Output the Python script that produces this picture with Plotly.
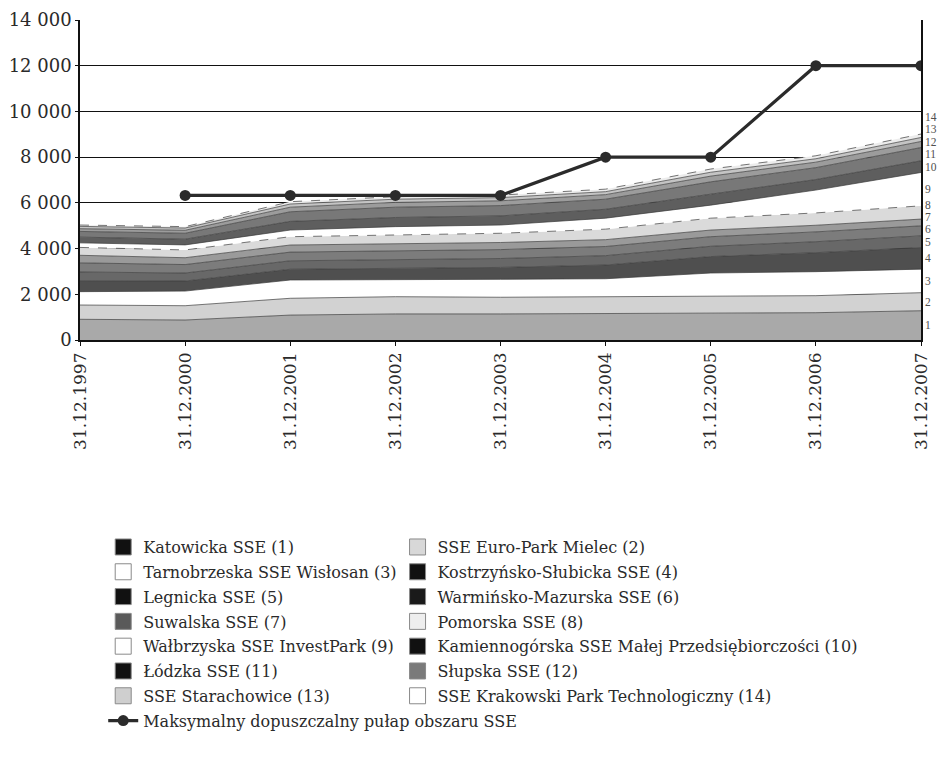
import plotly.graph_objects as go

# ---------------- data ----------------
dates = ["31.12.1997", "31.12.2000", "31.12.2001", "31.12.2002", "31.12.2003",
         "31.12.2004", "31.12.2005", "31.12.2006", "31.12.2007"]

zone_names = [
    "Katowicka SSE (1)",
    "SSE Euro-Park Mielec (2)",
    "Tarnobrzeska SSE Wisłosan (3)",
    "Kostrzyńsko-Słubicka SSE (4)",
    "Legnicka SSE (5)",
    "Warmińsko-Mazurska SSE (6)",
    "Suwalska SSE (7)",
    "Pomorska SSE (8)",
    "Wałbrzyska SSE InvestPark (9)",
    "Kamiennogórska SSE Małej Przedsiębiorczości (10)",
    "Łódzka SSE (11)",
    "Słupska SSE (12)",
    "SSE Starachowice (13)",
    "SSE Krakowski Park Technologiczny (14)",
]

katowicka      = [905, 875, 1090, 1140, 1140, 1165, 1195, 1195, 1280]
mielec         = [625, 625, 735, 755, 730, 730, 700, 745, 790]
tarnobrzeska   = [585, 640, 800, 730, 785, 785, 1035, 1050, 1030]
kostrzynska    = [480, 440, 470, 500, 520, 600, 720, 830, 945]
legnicka       = [380, 350, 370, 380, 390, 410, 450, 480, 510]
warminska      = [400, 370, 380, 390, 390, 400, 420, 430, 440]
suwalska       = [330, 300, 310, 310, 310, 300, 290, 290, 295]
pomorska       = [345, 340, 365, 385, 405, 460, 520, 540, 580]
walbrzyska     = [200, 220, 290, 370, 360, 480, 570, 1000, 1460]
kamiennogorska = [250, 250, 380, 400, 400, 390, 480, 460, 510]
lodzka         = [250, 260, 420, 450, 450, 440, 540, 520, 580]
slupska        = [120, 130, 200, 210, 210, 200, 250, 240, 265]
starachowice   = [100, 100, 140, 140, 140, 130, 170, 150, 175]
krakowska      = [60, 60, 100, 110, 110, 110, 140, 130, 150]

limit_name = "Maksymalny dopuszczalny pułap obszaru SSE"
limit_values = [None, 6325, 6325, 6325, 6325, 8000, 8000, 12000, 12000]

y_ticks = [0, 2000, 4000, 6000, 8000, 10000, 12000, 14000]

series = [katowicka, mielec, tarnobrzeska, kostrzynska, legnicka, warminska,
          suwalska, pomorska, walbrzyska, kamiennogorska, lodzka, slupska,
          starachowice, krakowska]

# ---------------- styles ----------------
area_fill = ["#a9a9a9", "#d2d2d2", "#ffffff", "#4f4f4f", "#686868", "#7c7c7c",
             "#9a9a9a", "#dadada", "#ffffff", "#5e5e5e", "#787878", "#9c9c9c",
             "#c4c4c4", "#ececec"]
area_dash = ["solid", "solid", "solid", "solid", "solid", "solid", "solid",
             "dash", "solid", "solid", "solid", "solid", "solid", "dash"]
legend_fill = ["#111111", "#d8d8d8", "#ffffff", "#111111", "#111111", "#1a1a1a",
               "#5a5a5a", "#eeeeee", "#ffffff", "#111111", "#111111", "#7a7a7a",
               "#cfcfcf", "#ffffff"]
FONT = "DejaVu Serif"
TXT = "#2a2a2a"

fig = go.Figure()

for i, (nm, vals) in enumerate(zip(zone_names, series)):
    fig.add_trace(go.Scatter(
        x=dates, y=vals, name=nm, stackgroup="one", mode="lines",
        fillcolor=area_fill[i],
        line=dict(color="#3a3a3a", width=0.7, dash=area_dash[i]),
        showlegend=False, hoverinfo="x+y+name",
    ))

# legend swatches (two columns: odd numbers left, even numbers right)
for i, nm in enumerate(zone_names):
    fig.add_trace(go.Scatter(
        x=[None], y=[None], name=nm, mode="markers",
        marker=dict(symbol="square", size=16, color=legend_fill[i],
                    line=dict(color="#8a8a8a", width=1)),
        legend="legend" if i % 2 == 0 else "legend2",
        legendgroup="g%d" % i,
    ))

fig.add_trace(go.Scatter(
    x=dates, y=limit_values, name=limit_name, mode="lines+markers",
    line=dict(color="#2b2b2b", width=3.2),
    marker=dict(size=11, color="#2b2b2b"),
    connectgaps=False, legend="legend", legendgroup="glimit",
))

# right-hand numeric labels, placed from band mid-points at the last date
cum = 0
mids = []
for vals in series:
    mids.append(cum + vals[-1] / 2)
    cum += vals[-1]
min_gap = 540
label_pos = []
for m in mids:
    if label_pos and m < label_pos[-1] + min_gap:
        m = label_pos[-1] + min_gap
    label_pos.append(m)
for k, yv in enumerate(label_pos):
    fig.add_annotation(x=1.003, xref="paper", y=yv, yref="y", text=str(k + 1),
                       showarrow=False, xanchor="left", yanchor="middle",
                       borderpad=0,
                       font=dict(family="Liberation Serif", size=11.5,
                                 color="#505050"))

legend_common = dict(xanchor="left", yanchor="top", orientation="v",
                     font=dict(family=FONT, size=16, color=TXT),
                     itemwidth=30, bgcolor="rgba(0,0,0,0)",
                     traceorder="grouped", tracegroupgap=1)

fig.update_layout(
    width=938, height=758,
    margin=dict(l=80, r=17, t=20, b=418),
    paper_bgcolor="white", plot_bgcolor="white",
    separators=", ",
    font=dict(family=FONT, size=17, color=TXT),
    showlegend=True,
    legend=dict(x=0.0276, y=-0.594, **legend_common),
    legend2=dict(x=0.3776, y=-0.594, **legend_common),
)

fig.update_xaxes(
    type="category", categoryorder="array", categoryarray=dates,
    range=[0, len(dates) - 1], tickangle=-90, automargin=False,
    showline=True, linecolor="#111111", linewidth=1.5,
    ticks="outside", ticklen=4, tickcolor="#111111",
    tickfont=dict(family=FONT, size=17, color=TXT),
    showgrid=False, zeroline=False,
)
fig.update_yaxes(
    range=[0, 14000], tickvals=y_ticks, tickformat=",.0f", automargin=False,
    showline=True, linecolor="#111111", linewidth=1.5, mirror=True,
    ticks="outside", ticklen=3, tickcolor="#111111",
    showgrid=True, gridcolor="#111111", gridwidth=1.4,
    tickfont=dict(family=FONT, size=18, color=TXT),
    zeroline=False,
)

# place the 938x758 figure flush with the page corner (no default body margin)
fig.write_html("out.html",
               config={"displayModeBar": False},
               post_script="document.body.style.margin='0';"
                           "document.body.style.overflow='hidden';")
